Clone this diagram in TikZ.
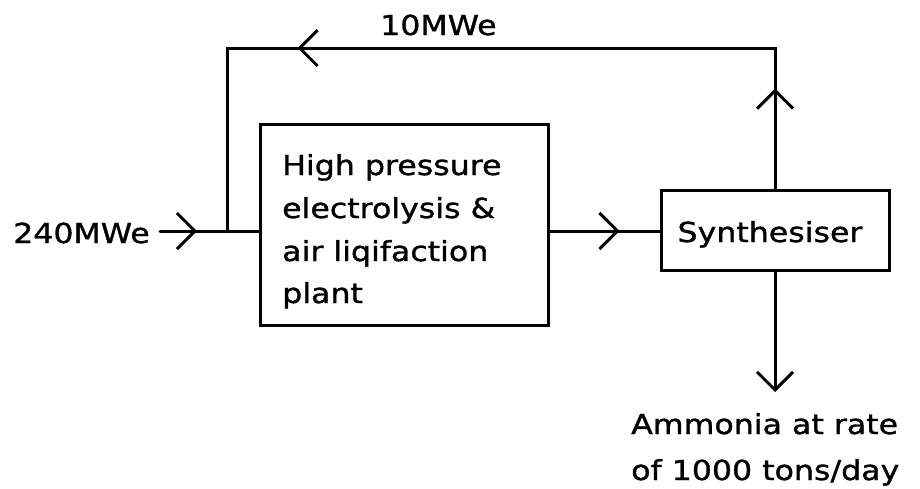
\documentclass[tikz,border=0pt]{standalone}
\usepackage{fontspec}
\newfontfamily\pixfont[FakeStretch=1.15,FakeBold=1.2]{DejaVu Sans}
\usetikzlibrary{arrows.meta,decorations.markings}
\tikzset{
  wire/.style={line width=3pt, line cap=round},
  chev/.tip={Straight Barb[length=18pt,width=36pt,line width=3pt]},
  boxstyle/.style={draw, line width=3pt, inner sep=0pt},
  lbl/.style={font=\pixfont\fontsize{27.5}{32}\selectfont, inner sep=0pt},
}
\begin{document}
\begin{tikzpicture}[x=1pt,y=-1pt]
\useasboundingbox (0,0) rectangle (920,488);
% boxes
\node[boxstyle, minimum width=288pt, minimum height=201pt] (plant) at (404,224.5) {};
\node[boxstyle, minimum width=228pt, minimum height=80pt] (synth) at (775,230) {};
% texts
\node[lbl, anchor=base west] (p1) at (282,175) {High pressure};
\node[lbl, anchor=base west] (p2) at (282,218) {electrolysis \&};
\node[lbl, anchor=base west] (p3) at (282,261) {air liqifaction};
\node[lbl, anchor=base west] (p4) at (282,303) {plant};
\node[lbl, anchor=base] (stxt) at (770,242) {Synthesiser};
\node[lbl, anchor=base west] (inlbl) at (13,243) {240MWe};
\node[lbl, anchor=base west] (fb) at (380,35) {10MWe};
\node[lbl, anchor=base west] (am1) at (631,434) {Ammonia at rate};
\node[lbl, anchor=base west] (am2) at (631,480) {of 1000 tons/day};
% coordinates
\coordinate (inS) at (160,231);
\coordinate (j) at (227,231);
\coordinate (tl) at (227,48);
\coordinate (tr) at (synth.north |- tl);
\coordinate (out) at (775,392);
% connectors
\draw[wire, postaction={decorate}, decoration={markings, mark=at position 37pt with {\arrow{chev}}}]
  (inS) -- (inS -| plant.west);
\draw[wire, postaction={decorate}, decoration={markings, mark=at position 70pt with {\arrow{chev}}}]
  (plant.east |- j) -- (synth.west |- j);
\draw[wire, line join=miter, postaction={decorate}, decoration={markings,
    mark=at position 100pt with {\arrow{chev}},
    mark=at position 618pt with {\arrow{chev}}}]
  (synth.north) -- (tr) -- (tl) -- (j);
\draw[wire, -{chev}] (synth.south) -- (out);
\end{tikzpicture}
\end{document}
